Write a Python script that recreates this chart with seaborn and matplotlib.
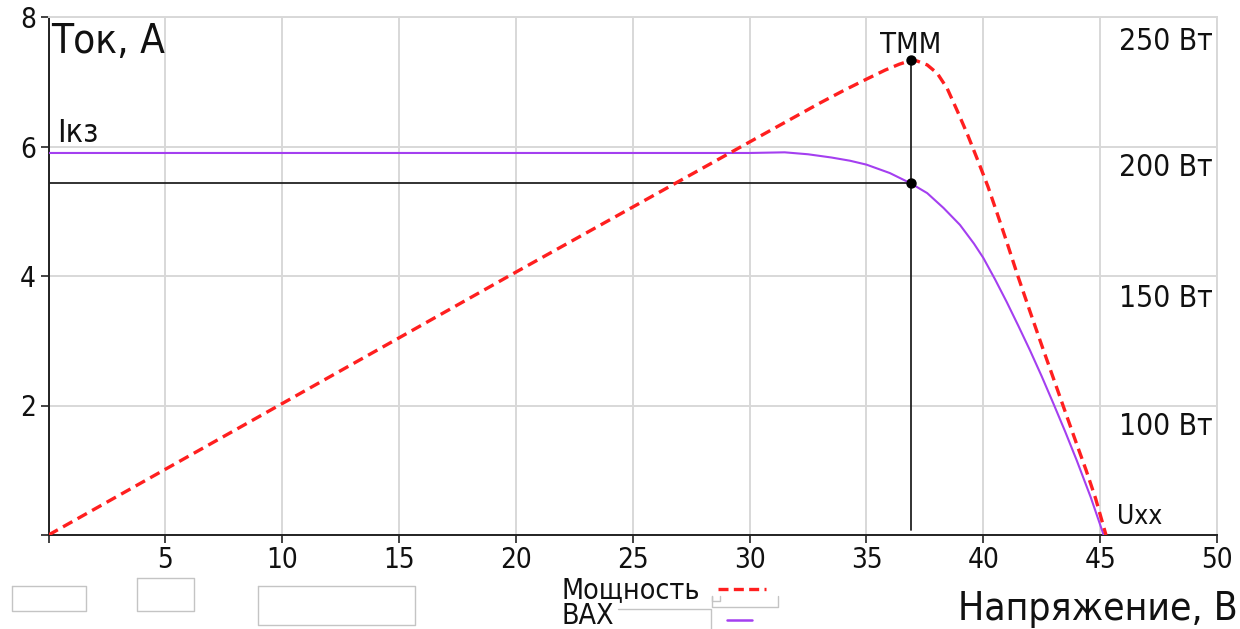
import matplotlib
matplotlib.use("Agg")
import matplotlib.pyplot as plt
import seaborn as sns
import pandas as pd
from matplotlib.lines import Line2D

# Current-voltage characteristic of the panel (V, A)
iv_voltage = [0, 30, 31.5, 32.5, 33.5, 34.3, 35, 36, 36.9, 37.6, 38.3, 39.0,
              39.6, 40, 40.5, 41, 41.5, 42, 42.5, 43, 43.5, 44, 44.6, 45.15]
iv_current = [5.9, 5.9, 5.91, 5.88, 5.83, 5.78, 5.72, 5.59, 5.43, 5.28, 5.05, 4.79,
              4.5, 4.28, 3.95, 3.6, 3.23, 2.85, 2.45, 2.03, 1.6, 1.15, 0.58, 0.0]

# Power curve, drawn on the current scale
pw_voltage = [0, 10, 20, 30, 33, 34, 35, 35.8, 36.4, 36.9, 37.17, 37.6, 38.03,
              38.45, 38.9, 39.33, 39.76, 40.2, 40.6, 41.0, 41.45, 42, 42.5, 43,
              43.45, 44, 44.4, 44.8, 45.25]
pw_level = [0, 2.03, 4.06, 6.07, 6.67, 6.86, 7.04, 7.18, 7.27, 7.33, 7.32, 7.26,
            7.13, 6.90, 6.54, 6.18, 5.79, 5.38, 4.96, 4.53, 4.03, 3.45, 2.93,
            2.42, 1.96, 1.4, 1.0, 0.57, 0.0]

# Maximum power point
mpp_voltage = 36.9
mpp_current = 5.43
mpp_power_level = 7.33

x_ticks = [0, 5, 10, 15, 20, 25, 30, 35, 40, 45, 50]
x_tick_labels = ["", "5", "10", "15", "20", "25", "30", "35", "40", "45", "50"]
y_ticks = [0, 2, 4, 6, 8]
y_tick_labels = ["", "2", "4", "6", "8"]

watt_labels = ["250 Вт", "200 Вт", "150 Вт", "100 Вт"]
watt_label_y = [7.49, 5.54, 3.52, 1.54]

legend_labels = ["Мощность", "ВАХ"]

RED = "#ff1f1f"
PURPLE = "#a43ff0"
GRID = "#d8d8d8"
INK = "#111111"
RED_DASH = (0, (3.2, 1.8))

sns.set_theme(style="whitegrid")
plt.rcParams["font.family"] = ["DejaVu Sans"]
plt.rcParams["font.stretch"] = "condensed"

W, H = 1240, 629
fig = plt.figure(figsize=(W / 100, H / 100), dpi=100)
fig.patch.set_facecolor("white")


def fx(px):
    return px / W


def fy(py):
    return 1 - py / H


ax = fig.add_axes([fx(48.5), fy(535), fx(1217) - fx(48.5), fy(17) - fy(535)])
ax.set_facecolor("white")

iv_df = pd.DataFrame({"U": iv_voltage, "I": iv_current})
pw_df = pd.DataFrame({"U": pw_voltage, "P": pw_level})

sns.lineplot(data=pw_df, x="U", y="P", ax=ax, color=RED, lw=2.4,
             linestyle=RED_DASH, legend=False, zorder=4)
sns.lineplot(data=iv_df, x="U", y="I", ax=ax, color=PURPLE, lw=1.5,
             legend=False, zorder=3)

# Maximum power point guides
ax.plot([0, mpp_voltage], [mpp_current, mpp_current], color="#222222", lw=1.3, zorder=2)
ax.plot([mpp_voltage, mpp_voltage], [0.08, mpp_power_level], color="#222222", lw=1.3, zorder=2)
ax.scatter([mpp_voltage, mpp_voltage], [mpp_current, mpp_power_level], s=42,
           color="black", zorder=5)

ax.set_xlim(0, 50)
ax.set_ylim(0, 8)
ax.set_xticks(x_ticks)
ax.set_xticklabels(x_tick_labels)
ax.set_yticks(y_ticks)
ax.set_yticklabels(y_tick_labels)
ax.set_xlabel("")
ax.set_ylabel("")

ax.grid(True, color=GRID, lw=1.4)
for side in ("top", "right"):
    ax.spines[side].set_color(GRID)
    ax.spines[side].set_linewidth(1.4)
for side in ("left", "bottom"):
    ax.spines[side].set_color("#222222")
    ax.spines[side].set_linewidth(1.4)

ax.tick_params(axis="both", which="major", direction="out", length=6, width=1.2,
               color="#222222", labelsize=20, labelcolor=INK, pad=3,
               bottom=True, left=True)
ax.tick_params(axis="x", pad=2)

# Labels inside the plot
ax.text(0.1, 7.92, "Ток, А", fontsize=29, va="top", ha="left", color=INK)
ax.text(0.35, 6.07, "Iкз", fontsize=23, va="baseline", ha="left", color=INK)
ax.text(mpp_voltage, 7.44, "ТММ", fontsize=21, va="baseline", ha="center", color=INK)
ax.text(45.7, 0.17, "Uхх", fontsize=19, va="baseline", ha="left", color=INK)
for lab, yv in zip(watt_labels, watt_label_y):
    ax.text(49.8, yv, lab, fontsize=21.5, va="baseline", ha="right", color=INK)

# Axis title for voltage
fig.text(fx(1238), fy(620), "Напряжение, В", fontsize=28, ha="right", va="baseline",
         color=INK)

# Legend: label first, then the line sample
fig.text(fx(561), fy(598), legend_labels[0], fontsize=20.5, ha="left", va="baseline",
         color=INK)
fig.text(fx(561), fy(624.5), legend_labels[1], fontsize=20.5, ha="left", va="baseline",
         color=INK)
fig.add_artist(Line2D([fx(718), fx(766)], [fy(589), fy(589)], transform=fig.transFigure,
                      color=RED, lw=2.4, linestyle=(0, (3.0, 1.6))))
fig.add_artist(Line2D([fx(727), fx(752)], [fy(620), fy(620)], transform=fig.transFigure,
                      color=PURPLE, lw=1.8))

# Light outline frames along the bottom edge
BOX = "#c4c4c4"
frames = [
    [(12, 586), (86, 586), (86, 611), (12, 611), (12, 586)],
    [(137, 578), (194, 578), (194, 611), (137, 611), (137, 578)],
    [(258, 586), (415, 586), (415, 625), (258, 625), (258, 586)],
    [(712, 596), (712, 607), (778, 607), (778, 596)],
    [(712, 596), (712, 601), (720, 601), (720, 596)],
    [(618, 609), (711, 609), (711, 629)],
]
for pts in frames:
    xs = [fx(p[0]) for p in pts]
    ys = [fy(p[1]) for p in pts]
    fig.add_artist(Line2D(xs, ys, transform=fig.transFigure, color=BOX, lw=1.0,
                          zorder=0))

fig.savefig("out.png", dpi=100, facecolor="white")
